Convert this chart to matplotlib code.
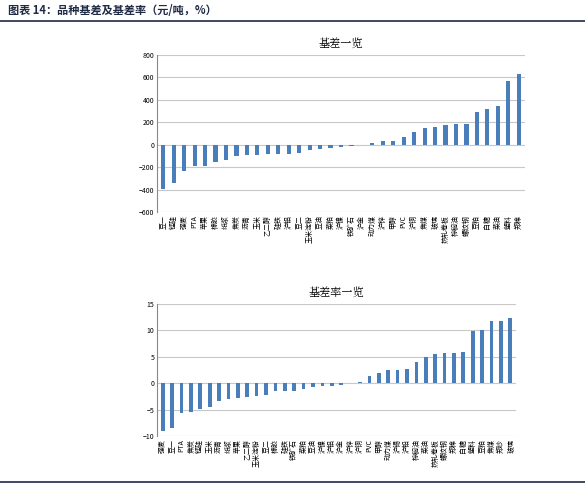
import matplotlib
matplotlib.use("Agg")
import matplotlib.pyplot as plt

plt.rcParams['font.family'] = ['Noto Sans CJK SC', 'DejaVu Sans']

cats1 = ["豆一","锰硅","强麦","PTA","苹果","橡胶","纸浆","焦炭","沥青","玉米","乙二醇","硅铁","沪铝","豆二",
         "玉米淀粉","豆油","菜粕","沪镍","铁矿石","沪金","动力煤","沪锌","甲醇","PVC","沪铜","焦煤","玻璃",
         "热轧卷板","棕榈油","螺纹钢","豆粕","白糖","菜油","塑料","郑棉"]
vals1 = [-394,-338,-235,-194,-188,-150,-132,-100,-94,-94,-79,-79,-79,-70,-50,-35,-26,-20,-9,-3,
         12,29,35,70,109,147,162,179,188,188,294,320,341,565,632]

cats2 = ["强麦","豆一","PTA","焦炭","锰硅","玉米","沥青","纸浆","苹果","乙二醇","玉米淀粉","豆二","橡胶",
         "硅铁","铁矿石","菜粕","豆油","沪镍","沪铝","沪金","沪锌","沪铜","PVC","甲醇","动力煤","沪锡","沪铅",
         "棕榈油","菜油","热轧卷板","螺纹钢","郑棉","白糖","塑料","豆粕","焦煤","郑纱","玻璃"]
vals2 = [-9.0,-8.4,-5.6,-5.5,-4.9,-4.6,-3.3,-2.9,-2.8,-2.6,-2.4,-2.3,-1.5,-1.5,-1.4,-1.1,-0.8,-0.6,-0.6,-0.4,
         0.1,0.3,1.3,1.9,2.5,2.5,2.6,4.0,5.0,5.6,5.7,5.8,5.9,9.8,10.0,11.7,11.8,12.4]

W, H = 585, 492
fig = plt.figure(figsize=(W/100, H/100), dpi=100)
blue = "#4a7ebb"

fig.text(8/W, 1-11/H, "图表 14：品种基差及基差率（元/吨，%）", fontsize=8, fontweight="bold",
         color="#1f2a44", va="center")
fig.add_artist(plt.Line2D([0, 1], [1-21/H, 1-21/H], color="#1f2a44", lw=1.2))
fig.add_artist(plt.Line2D([0, 1], [1-482/H, 1-482/H], color="#1f2a44", lw=1.2))

def style(ax, cats, vals, title, ylim, step):
    x = range(len(cats))
    ax.bar(x, vals, width=0.4, color=blue, zorder=3)
    ax.set_xlim(-0.6, len(cats)-0.4)
    ax.set_ylim(*ylim)
    ax.set_yticks(range(ylim[0], ylim[1]+1, step))
    ax.yaxis.grid(True, color="#c8c8c8", lw=0.8, zorder=0)
    ax.set_xticks(list(x))
    ax.set_xticklabels(cats, rotation=90, fontsize=5)
    ax.tick_params(axis='both', length=0, labelsize=5, pad=2)
    ax.tick_params(axis='x', pad=1)
    ax.xaxis.set_tick_params(labelbottom=False)
    for spine in ["top", "right"]:
        ax.spines[spine].set_visible(False)
    ax.spines["left"].set_color("#888888")
    ax.spines["bottom"].set_visible(False)
    ax.spines["left"].set_linewidth(0.8)
    for i, c in enumerate(cats):
        ax.text(i, ylim[0], c, transform=ax.transData, rotation=90, fontsize=5,
                ha="center", va="top")
        ax.annotate("", xy=(0, 0))
    ax.set_title(title, fontsize=8, pad=6, family=['Noto Serif CJK SC', 'Noto Sans CJK SC'])

ax1 = fig.add_axes([157/W, 1-212/H, (525-157)/W, (212-55)/H])
style(ax1, cats1, vals1, "基差一览", (-600, 800), 200)
ax2 = fig.add_axes([157/W, 1-436/H, (516-157)/W, (436-304)/H])
style(ax2, cats2, vals2, "基差率一览", (-10, 15), 5)

# place category labels slightly below the axis
for ax in (ax1, ax2):
    import matplotlib.transforms as mt
    off = mt.ScaledTranslation(0, -2/72, fig.dpi_scale_trans)
    for t in ax.texts:
        t.set_transform(t.get_transform() + off)

fig.savefig("out.png", dpi=100)
